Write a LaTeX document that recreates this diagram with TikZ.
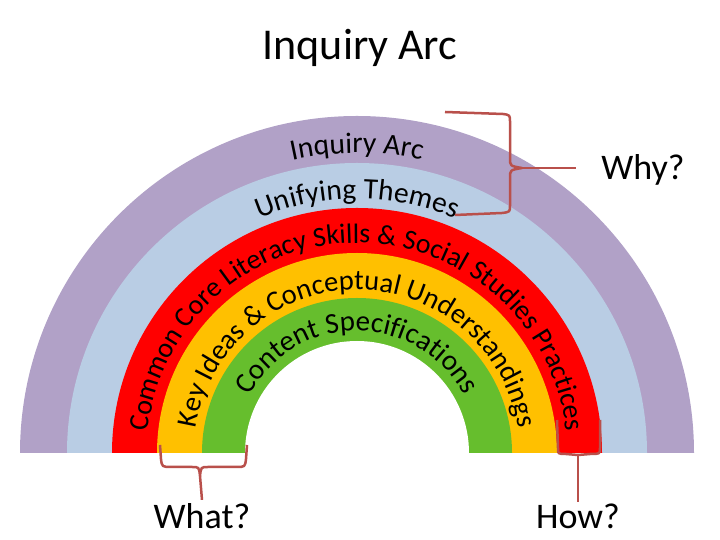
\documentclass[tikz,border=0pt]{standalone}
\usepackage{fontspec}
\setmainfont{Carlito}
\usetikzlibrary{decorations.text,calc}
\definecolor{arcpurple}{RGB}{177,161,199}
\definecolor{arcblue}{RGB}{185,205,228}
\definecolor{arcred}{RGB}{255,0,0}
\definecolor{arcyellow}{RGB}{255,192,0}
\definecolor{arcgreen}{RGB}{102,190,45}
\definecolor{bracered}{RGB}{185,80,75}
\tikzset{
  bandtext/.style={decorate,decoration={text along path,text align=center,text={#1}}},
  bracket/.style={draw=bracered,line width=2.5pt,line join=round},
  asklabel/.style={font=\fontsize{36}{40}\selectfont}
}
\newcommand{\bandfont}[1]{\fontsize{#1}{#1}\selectfont}

\begin{document}
\begin{tikzpicture}[x=1pt,y=1pt]
      \useasboundingbox (0,0) rectangle (720,540);
      \node[font=\fontsize{44}{50}\selectfont] (title) at (360,492) {Inquiry Arc};
      \fill[arcpurple] (20,87) arc[start angle=180,end angle=0,radius=337] -- cycle;
      \fill[arcblue] (67,87) arc[start angle=180,end angle=0,radius=290] -- cycle;
      \fill[arcred] (112,87) arc[start angle=180,end angle=0,radius=245] -- cycle;
      \fill[arcyellow] (157,87) arc[start angle=180,end angle=0,radius=200] -- cycle;
      \fill[arcgreen] (202,87) arc[start angle=180,end angle=0,radius=155] -- cycle;
      \fill[white] (245,87) arc[start angle=180,end angle=0,radius=112] -- cycle;
      \path[bandtext={|\bandfont{29.5}|Inquiry Arc}] (57,87) arc[start angle=180,end angle=0,radius=300];
      \path[bandtext={|\bandfont{29.5}|Unifying Themes}] (103,87) arc[start angle=180,end angle=0,radius=254];
      \path[bandtext={|\bandfont{28}|Common Core Literacy Skills {\&} Social Studies Practices}] (147,87) arc[start angle=180,end angle=0,radius=210];
      \path[bandtext={|\bandfont{28.5}|Key Ideas {\&} Conceptual Understandings}] (194,87) arc[start angle=180,end angle=0,radius=163];
      \path[bandtext={|\bandfont{29}|Content Specifications}] (235,87) arc[start angle=180,end angle=0,radius=122];
      \node[asklabel] (why) at (643,370) {Why?};
      \node[asklabel] (what) at (202,24) {What?};
      \node[asklabel] (how) at (578,24) {How?};
      \coordinate (whytip) at (522,372);
      \coordinate (whattip) at (200,64);
      \coordinate (howtip) at (578,85);
      \draw[bracket] (445,428) -- (503,426) .. controls (510,425) .. (510,418) -- (510,382) .. controls (510,374) .. (whytip)
        .. controls (510,370) .. (510,362) -- (510,335) .. controls (510,328) .. (502,327) -- (455,325);
      \draw[bracket] (whytip) -- ($(why.west)+(-22,2)$);
      \draw[bracket] (160,95) -- (161,81) .. controls (162,73) .. (172,73) -- (192,73) .. controls (199,73) .. (whattip)
        .. controls (201,73) .. (208,73) -- (236,73) .. controls (245,73) .. (246,81) -- (247,95);
      \draw[bracket] (whattip) -- (what.north);
      \draw[bracket] (557,120) -- (558,92) .. controls (558,86) .. (566,86) -- (howtip) -- (590,86) .. controls (600,86) .. (600,92) -- (600,120);
      \draw[bracket] (howtip) -- ($(how.north)+(0,-2)$);
    \end{tikzpicture}
\end{document}
